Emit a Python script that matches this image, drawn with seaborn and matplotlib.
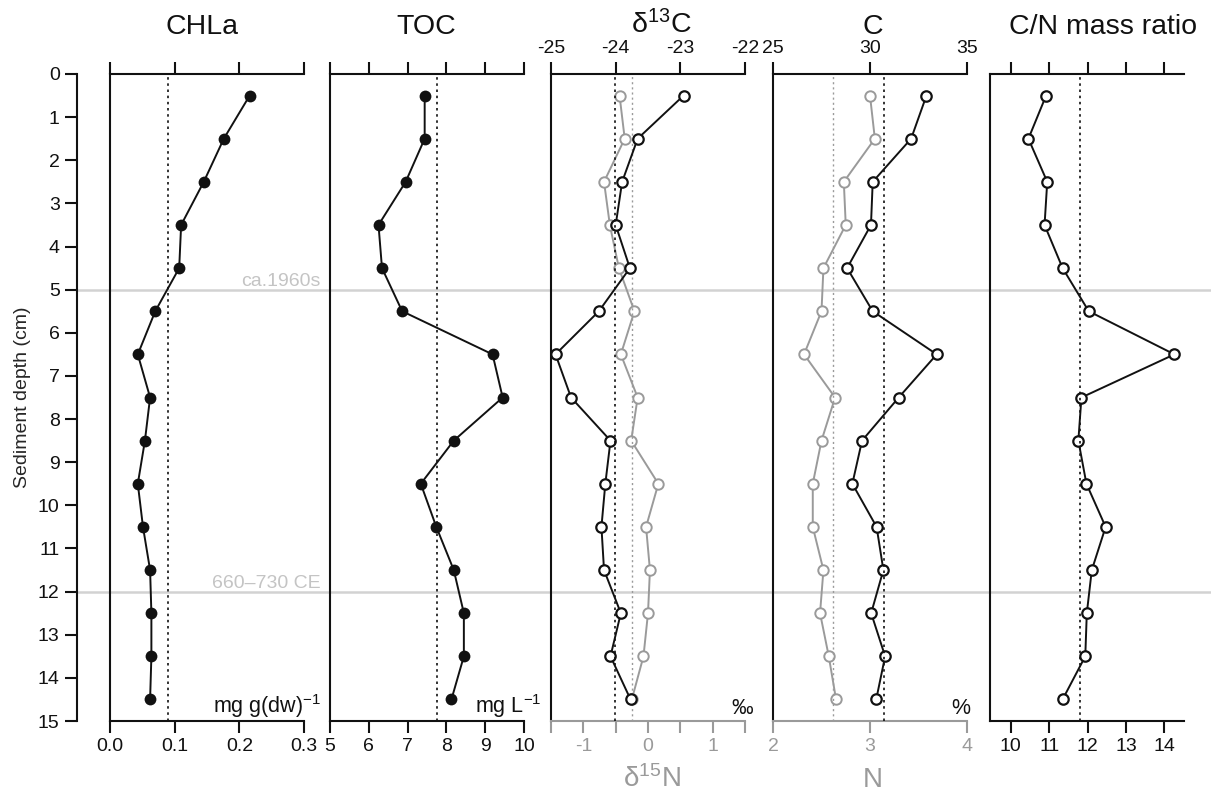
import matplotlib
matplotlib.use("Agg")
import matplotlib.pyplot as plt
import seaborn as sns

# ---------------- data ----------------
depth = [0.5, 1.5, 2.5, 3.5, 4.5, 5.5, 6.5, 7.5, 8.5, 9.5, 10.5, 11.5, 12.5, 13.5, 14.5]
chla = [0.216, 0.176, 0.145, 0.110, 0.107, 0.070, 0.043, 0.062, 0.054, 0.043, 0.051, 0.062, 0.064, 0.064, 0.062]
toc = [7.44, 7.44, 6.95, 6.25, 6.34, 6.86, 9.19, 9.45, 8.19, 7.34, 7.74, 8.19, 8.45, 8.45, 8.13]
d13c = [-22.95, -23.66, -23.90, -24.00, -23.78, -24.26, -24.93, -24.69, -24.08, -24.16,
        -24.22, -24.18, -23.92, -24.08, -23.77]
d15n = [-0.44, -0.36, -0.68, -0.59, -0.45, -0.21, -0.42, -0.16, -0.26, 0.16,
        -0.03, 0.03, 0.00, -0.07, -0.25]
carbon = [32.91, 32.12, 30.14, 30.05, 28.82, 30.14, 33.44, 31.48, 29.59, 29.09,
          30.34, 30.69, 30.06, 30.78, 30.32]
nitrogen = [3.00, 3.05, 2.73, 2.75, 2.52, 2.50, 2.32, 2.64, 2.50, 2.41,
            2.41, 2.52, 2.485, 2.575, 2.65]
cn_ratio = [10.92, 10.46, 10.95, 10.88, 11.35, 12.03, 14.26, 11.84, 11.76, 11.97,
            12.47, 12.11, 11.98, 11.94, 11.35]

ref_chla = 0.089
ref_toc = 7.77
ref_d13c = -24.01
ref_d15n = -0.24
ref_c = 30.7
ref_n = 2.615
ref_cn = 11.8

horizon_depths = [5, 12]
horizon_labels = ["ca.1960s", "660\u2013730 CE"]

depth_ticks = list(range(0, 16))
chla_ticks = [0.0, 0.1, 0.2, 0.3]
chla_labels = ["0.0", "0.1", "0.2", "0.3"]
toc_ticks = [5, 6, 7, 8, 9, 10]
toc_labels = ["5", "6", "7", "8", "9", "10"]
d13c_ticks = [-25, -24, -23, -22]
d13c_labels = ["-25", "-24", "-23", "-22"]
d15n_ticks = [-1.5, -1, -0.5, 0, 0.5, 1, 1.5]
d15n_labels = ["", "-1", "", "0", "", "1", ""]
c_ticks = [25, 30, 35]
c_labels = ["25", "30", "35"]
n_ticks = [2, 3, 4]
n_labels = ["2", "3", "4"]
cn_ticks = [10, 11, 12, 13, 14]
cn_labels = ["10", "11", "12", "13", "14"]

titles = ["CHLa", "TOC", r"δ$^{13}$C", "C", "C/N mass ratio"]
units = [r"mg g(dw)$^{-1}$", r"mg L$^{-1}$", "‰", "%", ""]

# ---------------- style ----------------
sns.set_style("ticks")
plt.rcParams["font.family"] = ["Liberation Sans", "DejaVu Sans"]
plt.rcParams["mathtext.fontset"] = "custom"
plt.rcParams["mathtext.rm"] = "Liberation Sans"
plt.rcParams["mathtext.it"] = "Liberation Sans:italic"
plt.rcParams["axes.unicode_minus"] = False

BLACK = "#111111"
GRAY = "#9a9a9a"
LIGHT = "#d2d2d2"
LIGHT_TXT = "#c4c4c4"
TICK_FS = 14
SPW = 1.5
TLEN = 8.5

W, H = 1211, 793
fig = plt.figure(figsize=(W / 100, H / 100), dpi=100)
top_px, bot_px = 74, 721
pw = 194
lefts = [110, 330, 551, 773, 990]
axes = []
for lp in lefts:
    ax = fig.add_axes([lp / W, (H - bot_px) / H, pw / W, (bot_px - top_px) / H])
    ax.patch.set_visible(False)
    axes.append(ax)
ax1, ax2, ax3, ax4, ax5 = axes
ax_h = bot_px - top_px


def base_style(ax):
    ax.set_ylim(15, 0)
    for s in ax.spines.values():
        s.set_linewidth(SPW)
        s.set_color(BLACK)
    ax.spines["right"].set_visible(False)
    ax.tick_params(axis="y", left=False, labelleft=False, right=False)
    ax.tick_params(axis="x", direction="out", length=TLEN, width=SPW,
                   labelsize=TICK_FS, pad=4, colors=BLACK)
    ax.set_xlabel("")
    ax.set_ylabel("")


def top_style(axt):
    axt.set_ylim(15, 0)
    for k in ["left", "right", "bottom"]:
        axt.spines[k].set_visible(False)
    axt.spines["top"].set_linewidth(SPW)
    axt.spines["top"].set_color(BLACK)
    axt.tick_params(axis="x", direction="out", length=TLEN, width=SPW,
                    labelsize=TICK_FS, pad=4, colors=BLACK)
    axt.tick_params(axis="y", left=False, right=False, labelleft=False, labelright=False)
    axt.set_xlabel("")
    axt.set_ylabel("")


line_kw = dict(sort=False, estimator=None, orient="y", linewidth=1.4, legend=False)
DOT = (0, (1.5, 2.2))

# Panel 1: CHLa
sns.lineplot(x=chla, y=depth, ax=ax1, color=BLACK, marker="o", markersize=8.5,
             markerfacecolor=BLACK, markeredgecolor=BLACK, markeredgewidth=0, **line_kw)
ax1.axvline(ref_chla, color=BLACK, ls=DOT, lw=1.2)
base_style(ax1)
ax1.set_xlim(0, 0.3)
ax1.set_xticks(chla_ticks, chla_labels)
ax1.tick_params(axis="x", top=True, labeltop=False)

# Panel 2: TOC
sns.lineplot(x=toc, y=depth, ax=ax2, color=BLACK, marker="o", markersize=8.5,
             markerfacecolor=BLACK, markeredgecolor=BLACK, markeredgewidth=0, **line_kw)
ax2.axvline(ref_toc, color=BLACK, ls=DOT, lw=1.2)
base_style(ax2)
ax2.set_xlim(5, 10)
ax2.set_xticks(toc_ticks, toc_labels)
ax2.tick_params(axis="x", top=True, labeltop=False)

# Panel 3: d15N (bottom, gray) + d13C (top, black)
sns.lineplot(x=d15n, y=depth, ax=ax3, color=GRAY, marker="o", markersize=7.5,
             markerfacecolor="white", markeredgecolor=GRAY, markeredgewidth=1.4, **line_kw)
ax3.axvline(ref_d15n, color=GRAY, ls=DOT, lw=1.0)
base_style(ax3)
ax3.set_xlim(-1.5, 1.5)
ax3.set_xticks(d15n_ticks, d15n_labels)
ax3.spines["top"].set_visible(False)
ax3.spines["bottom"].set_color(GRAY)
ax3.tick_params(axis="x", colors=GRAY)
ax3t = ax3.twiny()
ax3t.patch.set_visible(False)
sns.lineplot(x=d13c, y=depth, ax=ax3t, color=BLACK, marker="o", markersize=7.5,
             markerfacecolor="white", markeredgecolor=BLACK, markeredgewidth=1.6, **line_kw)
ax3t.axvline(ref_d13c, color=BLACK, ls=DOT, lw=1.2)
ax3t.set_xlim(-25, -22)
ax3t.set_xticks(d13c_ticks, d13c_labels)
top_style(ax3t)

# Panel 4: N (bottom, gray) + C (top, black)
sns.lineplot(x=nitrogen, y=depth, ax=ax4, color=GRAY, marker="o", markersize=7.5,
             markerfacecolor="white", markeredgecolor=GRAY, markeredgewidth=1.4, **line_kw)
ax4.axvline(ref_n, color=GRAY, ls=DOT, lw=1.0)
base_style(ax4)
ax4.set_xlim(2, 4)
ax4.set_xticks(n_ticks, n_labels)
ax4.spines["top"].set_visible(False)
ax4.spines["bottom"].set_color(GRAY)
ax4.tick_params(axis="x", colors=GRAY)
ax4t = ax4.twiny()
ax4t.patch.set_visible(False)
sns.lineplot(x=carbon, y=depth, ax=ax4t, color=BLACK, marker="o", markersize=7.5,
             markerfacecolor="white", markeredgecolor=BLACK, markeredgewidth=1.6, **line_kw)
ax4t.axvline(ref_c, color=BLACK, ls=DOT, lw=1.2)
ax4t.set_xlim(25, 35)
ax4t.set_xticks(c_ticks, c_labels)
top_style(ax4t)

# Panel 5: C/N
sns.lineplot(x=cn_ratio, y=depth, ax=ax5, color=BLACK, marker="o", markersize=7.5,
             markerfacecolor="white", markeredgecolor=BLACK, markeredgewidth=1.6, **line_kw)
ax5.axvline(ref_cn, color=BLACK, ls=DOT, lw=1.2)
base_style(ax5)
ax5.set_xlim(9.46, 14.51)
ax5.set_xticks(cn_ticks, cn_labels)
ax5.tick_params(axis="x", top=True, labeltop=False)

# Depth axis (offset to the left of panel 1)
yax = ax1.secondary_yaxis(-33 / pw)
yax.set_yticks(depth_ticks, [str(t) for t in depth_ticks])
yax.tick_params(axis="y", direction="out", length=TLEN, width=SPW,
                labelsize=TICK_FS, pad=4, colors=BLACK)
yax.spines["left"].set_linewidth(SPW)
yax.spines["left"].set_color(BLACK)
yax.set_ylabel("Sediment depth (cm)", fontsize=14, labelpad=5)

# Horizons spanning all panels
for d, lab in zip(horizon_depths, horizon_labels):
    ax1.axhline(d, xmin=-33 / pw, xmax=(W - lefts[0]) / pw, color=LIGHT, lw=1.8,
                clip_on=False, zorder=0)
    ax1.annotate(lab, xy=(1.087, d), xycoords=("axes fraction", "data"),
                 xytext=(0, 2.5), textcoords="offset points", ha="right",
                 va="baseline", color=LIGHT_TXT, fontsize=14)

# Titles
title_x = [0.474, 0.495, 0.57, 0.515, 0.583]
for ax, t, tx in zip(axes, titles, title_x):
    ax.text(tx, 1 + (top_px - 33.5) / ax_h, t, transform=ax.transAxes,
            ha="center", va="baseline", fontsize=20.5, color=BLACK)

# Units
unit_x = [1.091, 1.091, 1.041, 1.019, 1.0]
for ax, u, ux in zip(axes, units, unit_x):
    if u:
        ax.text(ux, 7.5 / ax_h, u, transform=ax.transAxes, ha="right",
                va="baseline", fontsize=15.5, color=BLACK)

# Bottom labels for gray axes
ax3.text(0.519, -66 / ax_h, r"δ$^{15}$N", transform=ax3.transAxes, ha="center",
         va="baseline", fontsize=20, color=GRAY)
ax4.text(0.515, -66 / ax_h, "N", transform=ax4.transAxes, ha="center",
         va="baseline", fontsize=20, color=GRAY)

fig.savefig("out.png", dpi=100)
